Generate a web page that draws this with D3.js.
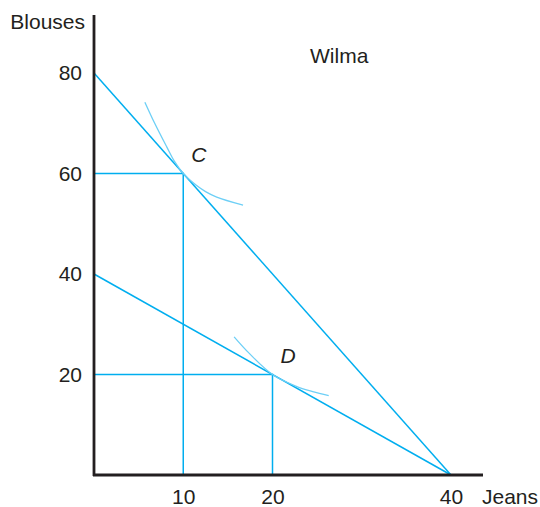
<!DOCTYPE html>
<html><head><meta charset="utf-8">
<script src="https://cdn.jsdelivr.net/npm/d3@7"></script>
<style>body{margin:0;background:#fff}svg{display:block}text{font-family:"Liberation Sans",Arial,sans-serif;fill:#231f20}</style>
</head><body><svg id="c" width="540" height="507"></svg>
<script>
const xTicks = [10, 20, 40];
const yTicks = [20, 40, 60, 80];
const budgetHigh = [[0, 80], [40, 0]];
const budgetLow = [[0, 40], [40, 0]];
const points = [{name: "C", x: 10, y: 60}, {name: "D", x: 20, y: 20}];
const curveC = [[5.7, 74.2], [6.8, 70.0], [8.15, 65.3], [9.0, 62.45], [10, 60], [11.5, 57.6], [12.5, 56.4], [13.75, 55.3], [16.7, 53.7]];
const curveD = [[15.7, 27.5], [17.4, 24.2], [20, 20], [22.6, 17.7], [24.5, 16.6], [26.3, 15.8]];

const svg = d3.select("#c");
const x = d3.scaleLinear().domain([0, 40]).range([94, 451]);
const y = d3.scaleLinear().domain([0, 80]).range([475, 73]);
const blue = "#00aeef", light = "#6dcff6";
const fs = "21px";

const xa = svg.append("g").attr("transform", "translate(0,475)")
  .call(d3.axisBottom(x).tickValues(xTicks).tickSize(0).tickPadding(14));
xa.select(".domain").remove();
xa.selectAll("text").style("font-size", fs).attr("fill", "#231f20");
const ya = svg.append("g").attr("transform", "translate(94,0)")
  .call(d3.axisLeft(y).tickValues(yTicks).tickSize(0).tickPadding(12));
ya.select(".domain").remove();
ya.selectAll("text").style("font-size", fs).attr("fill", "#231f20");

const line = d3.line().x(d => x(d[0])).y(d => y(d[1]));
points.forEach(p => {
  svg.append("path").attr("d", line([[0, p.y], [p.x, p.y], [p.x, 0]]))
    .attr("fill", "none").attr("stroke", blue).attr("stroke-width", 1.5);
});
[budgetHigh, budgetLow].forEach(b => svg.append("path").attr("d", line(b))
  .attr("fill", "none").attr("stroke", blue).attr("stroke-width", 1.5));
const cl = d3.line().x(d => x(d[0])).y(d => y(d[1])).curve(d3.curveCatmullRom);
[curveC, curveD].forEach(c => svg.append("path").attr("d", cl(c))
  .attr("fill", "none").attr("stroke", light).attr("stroke-width", 1.3));

svg.append("line").attr("x1", 94).attr("x2", 94).attr("y1", 15).attr("y2", 476)
  .attr("stroke", "#231f20").attr("stroke-width", 2.8);
svg.append("line").attr("x1", 93).attr("x2", 483).attr("y1", 475).attr("y2", 475)
  .attr("stroke", "#231f20").attr("stroke-width", 2.8);

svg.append("text").attr("x", 85).attr("y", 29).attr("text-anchor", "end").style("font-size", fs).text("Blouses");
svg.append("text").attr("x", 482).attr("y", 504).style("font-size", fs).text("Jeans");
svg.append("text").attr("x", 310).attr("y", 63).style("font-size", fs).text("Wilma");
points.forEach(p => svg.append("text").attr("x", x(p.x) + 8).attr("y", y(p.y) - 12)
  .style("font-size", fs).style("font-style", "italic").text(p.name));
</script></body></html>
